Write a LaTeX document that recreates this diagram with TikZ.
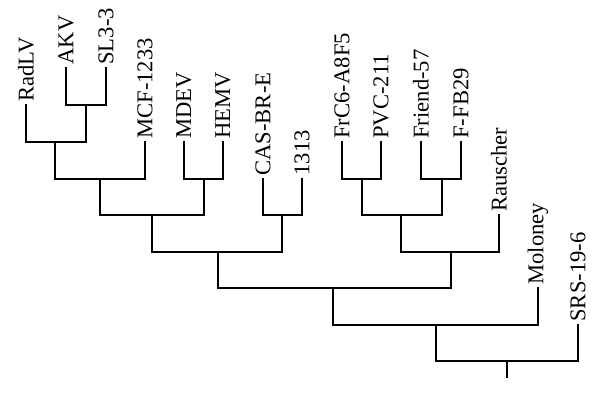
\documentclass[tikz,border=0pt]{standalone}
\usepackage{fontspec}
\setmainfont{Liberation Serif}
\usepackage{tikz}
\usetikzlibrary{positioning,calc}

\begin{document}
\begin{tikzpicture}[
  x=0.5pt,y=-0.5pt,
  taxon/.style={rotate=90,anchor=west,inner sep=1.5pt,font=\fontsize{11.3pt}{12pt}\selectfont},
  branch/.style={line width=1pt,line cap=rect}
]
  \useasboundingbox (0,0) rectangle (600,399);

  % leaf tips
  \coordinate (radlv) at (26,105);
  \coordinate (akv) at (66,68);
  \coordinate (sl) at (106,68);
  \coordinate (mcf) at (145,142);
  \coordinate (mdev) at (184,142);
  \coordinate (hemv) at (223,142);
  \coordinate (cas) at (263,179);
  \coordinate (t1313) at (302,179);
  \coordinate (frc) at (342,142);
  \coordinate (pvc) at (381,142);
  \coordinate (friend) at (421,142);
  \coordinate (ffb) at (461,142);
  \coordinate (rau) at (499,215);
  \coordinate (mol) at (538,288);
  \coordinate (srs) at (578,325);

  \node[taxon] (radlv-l) at (radlv) {RadLV};
  \node[taxon] (akv-l) at (akv) {AKV};
  \node[taxon] (sl-l) at (sl) {SL3-3};
  \node[taxon] (mcf-l) at (mcf) {MCF-1233};
  \node[taxon] (mdev-l) at (mdev) {MDEV};
  \node[taxon] (hemv-l) at (hemv) {HEMV};
  \node[taxon] (cas-l) at (cas) {CAS-BR-E};
  \node[taxon] (t1313-l) at (t1313) {1313};
  \node[taxon] (frc-l) at (frc) {FrC6-A8F5};
  \node[taxon] (pvc-l) at (pvc) {PVC-211};
  \node[taxon] (friend-l) at (friend) {Friend-57};
  \node[taxon] (ffb-l) at (ffb) {F-FB29};
  \node[taxon] (rau-l) at (rau) {Rauscher};
  \node[taxon] (mol-l) at (mol) {Moloney};
  \node[taxon] (srs-l) at (srs) {SRS-19-6};

  % internal nodes
  \coordinate (j1) at (86,105);
  \coordinate (j2) at (55,142);
  \coordinate (j3) at (100,179);
  \coordinate (j4) at (204,179);
  \coordinate (j5) at (152,215);
  \coordinate (j6) at (282,215);
  \coordinate (j7) at (218,252);
  \coordinate (j8) at (362,179);
  \coordinate (j9) at (442,179);
  \coordinate (j10) at (401,215);
  \coordinate (j11) at (451,252);
  \coordinate (j12) at (333,288);
  \coordinate (j13) at (436,325);
  \coordinate (j14) at (507,361);
  \coordinate (root) at (507,377);

  \draw[branch] (akv) |- (j1) -| (sl);
  \draw[branch] (radlv) |- (j2) -| (j1);
  \draw[branch] (j2) |- (j3) -| (mcf);
  \draw[branch] (mdev) |- (j4) -| (hemv);
  \draw[branch] (j3) |- (j5) -| (j4);
  \draw[branch] (cas) |- (j6) -| (t1313);
  \draw[branch] (j5) |- (j7) -| (j6);
  \draw[branch] (frc) |- (j8) -| (pvc);
  \draw[branch] (friend) |- (j9) -| (ffb);
  \draw[branch] (j8) |- (j10) -| (j9);
  \draw[branch] (j10) |- (j11) -| (rau);
  \draw[branch] (j7) |- (j12) -| (j11);
  \draw[branch] (j12) |- (j13) -| (mol);
  \draw[branch] (j13) |- (j14) -| (srs);
  \draw[branch] (j14) -- (root);
\end{tikzpicture}
\end{document}
